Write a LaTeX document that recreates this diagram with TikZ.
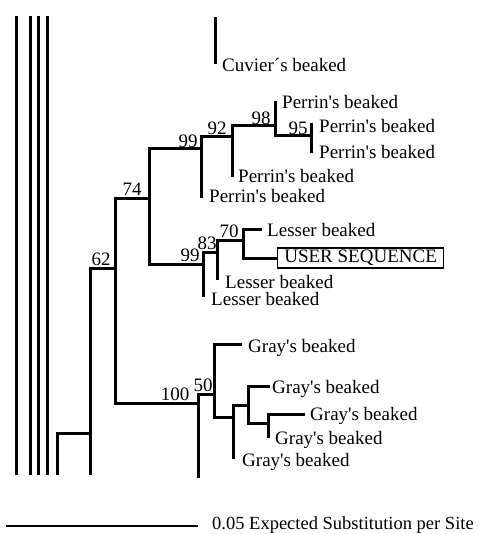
\documentclass[tikz,border=0pt]{standalone}
\usepackage{fontspec}
\newfontfamily\treefont{Liberation Serif}
\usetikzlibrary{positioning}
\tikzset{
  br/.style={line width=3pt, line cap=butt, line join=miter},
  lf/.style={anchor=west, inner sep=0pt, text height=13pt, text depth=4pt,
    font=\treefont\fontsize{19}{22}\selectfont},
  bs/.style={inner sep=0pt, font=\treefont\fontsize{19}{22}\selectfont},
  userbox/.style={draw, line width=1.2pt, anchor=west, inner sep=0pt,
    minimum width=166pt, minimum height=20pt, font=\treefont\fontsize{19}{22}\selectfont},
}
\begin{document}
\begin{tikzpicture}[x=1pt, y=-1pt]
  \useasboundingbox (0,0) rectangle (483,534);
  % cut-off outgroups
  \foreach \k/\x in {1/16,2/30,3/38,4/47}{
    \coordinate (o\k a) at (\x,16);
    \coordinate (o\k b) at (\x,475);
    \draw[br] (o\k a) -- (o\k b);}
  \coordinate (cuv0) at (215,17);
  \coordinate (cuv) at (215,64);
  \draw[br] (cuv0) -- (cuv);

  % internal nodes
  \coordinate (r0) at (57,475);
  \coordinate (r1) at (90,433);
  \coordinate (r1end) at (90,475);
  \coordinate (n62) at (115,268);
  \coordinate (n74) at (149,199);
  \coordinate (n99a) at (201,149);
  \coordinate (n92) at (232,137);
  \coordinate (n98) at (275,126);
  \coordinate (n95) at (311,136);
  \coordinate (n99b) at (203,264);
  \coordinate (n83) at (217,252);
  \coordinate (n70) at (243,240);
  \coordinate (n100) at (198,403);
  \coordinate (n100end) at (198,478);
  \coordinate (n50) at (214,394);
  \coordinate (g1) at (233,417);
  \coordinate (g2) at (248,405);
  \coordinate (g3) at (268,423);
  % leaves
  \coordinate (p1) at (275,101);
  \coordinate (p2) at (311,123);
  \coordinate (p3) at (311,153);
  \coordinate (p4) at (232,177);
  \coordinate (p5) at (201,198);
  \coordinate (l1) at (262,229);
  \coordinate (l2) at (217,280);
  \coordinate (l3) at (203,297);
  \coordinate (gy1) at (242,344);
  \coordinate (gy2) at (270,386);
  \coordinate (gy3) at (305,414);
  \coordinate (gy4) at (268,438);
  \coordinate (gy5) at (233,459);

  % leaf labels
  \node[lf] (tcuv) at (222,67) {Cuvier´s beaked};
  \node[lf] (tp1) at (282,104) {Perrin's beaked};
  \node[lf] (tp2) at (319,128) {Perrin's beaked};
  \node[lf] (tp3) at (319,154) {Perrin's beaked};
  \node[lf] (tp4) at (238,178) {Perrin's beaked};
  \node[lf] (tp5) at (209,198) {Perrin's beaked};
  \node[lf] (tl1) at (267,232) {Lesser beaked};
  \node[userbox] (user) at (277,258) {USER SEQUENCE};
  \node[lf] (tl2) at (225,284) {Lesser beaked};
  \node[lf] (tl3) at (211,301) {Lesser beaked};
  \node[lf] (tg1) at (248,348) {Gray's beaked};
  \node[lf] (tg2) at (272,389) {Gray's beaked};
  \node[lf] (tg3) at (310,416) {Gray's beaked};
  \node[lf] (tg4) at (275,440) {Gray's beaked};
  \node[lf] (tg5) at (242,462) {Gray's beaked};

  % branches
  \foreach \p/\c in {r0/r1, r1/n62, r1/r1end, n62/n74, n62/n100,
      n74/n99a, n74/n99b, n99a/n92, n99a/p5, n92/n98, n92/p4,
      n98/p1, n98/n95, n95/p2, n95/p3,
      n99b/n83, n99b/l3, n83/n70, n83/l2, n70/l1, n70/user.west,
      n100/n50, n100/n100end, n50/gy1, n50/g1, g1/g2, g1/gy5,
      g2/gy2, g2/g3, g3/gy3, g3/gy4}
    \draw[br] (\p) |- (\c);

  % bootstrap values
  \node[bs] (b62) at (101,259) {62};
  \node[bs] (b74) at (132,189) {74};
  \node[bs] (b99a) at (188,141) {99};
  \node[bs] (b92) at (217,128) {92};
  \node[bs] (b98) at (261,118) {98};
  \node[bs] (b95) at (298,128) {95};
  \node[bs] (b99b) at (190,255) {99};
  \node[bs] (b83) at (207,243) {83};
  \node[bs] (b70) at (229,231) {70};
  \node[bs] (b100) at (175,394) {100};
  \node[bs] (b50) at (203,385) {50};

  % scale bar
  \coordinate (sb0) at (6,526);
  \coordinate (sb1) at (198,526);
  \draw[br, line width=2.5pt] (sb0) -- (sb1);
  \node[lf, font=\treefont\fontsize{18.5}{22}\selectfont] (sbt) at (212,525)
    {0.05 Expected Substitution per Site};
\end{tikzpicture}
\end{document}
